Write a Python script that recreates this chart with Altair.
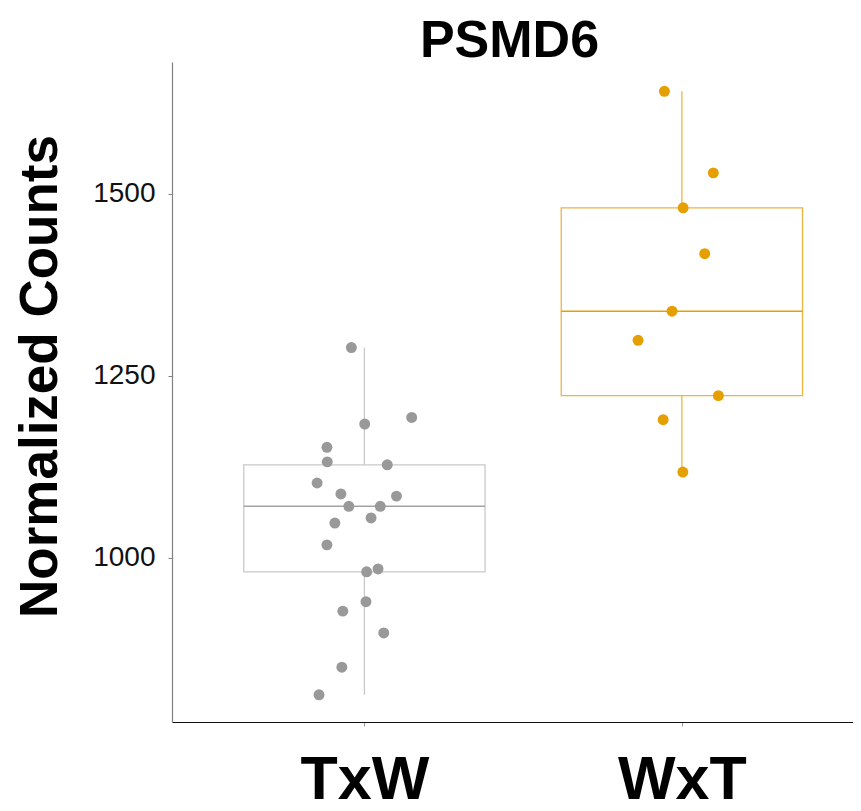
import altair as alt
import pandas as pd

# ---- data ----
groups = ["TxW", "WxT"]
group_pos = [1, 2]

txw_values = [1289, 1193, 1184, 1152, 1132, 1128, 1103, 1088, 1085, 1071, 1071,
              1055, 1048, 1018, 981, 985, 940, 927, 897, 850, 812]
txw_jitter = [-0.041, 0.149, 0.001, -0.118, -0.117, 0.072, -0.149, -0.074, 0.101,
              -0.049, 0.050, 0.021, -0.093, -0.118, 0.007, 0.043, 0.005, -0.068,
              0.061, -0.071, -0.143]

wxt_values = [1641, 1529, 1481, 1418, 1339, 1299, 1223, 1190, 1118]
wxt_jitter = [-0.055, 0.099, 0.004, 0.072, -0.031, -0.138, 0.115, -0.059, 0.003]

box_lower = [812, 1118]
box_q1 = [981, 1223]
box_median = [1071, 1339]
box_q3 = [1128, 1481]
box_upper = [1289, 1641]

y_ticks = [1000, 1250, 1500]

point_colors = ["#999999", "#E69F00"]
box_colors = ["#C9C9C9", "#EDB444"]
median_colors = ["#A3A3A3", "#E69F00"]

HALF = 0.38

pts = pd.DataFrame({
    "group": ["TxW"] * len(txw_values) + ["WxT"] * len(wxt_values),
    "value": txw_values + wxt_values,
    "jit": txw_jitter + wxt_jitter,
})
pts["pos"] = pts["group"].map(dict(zip(groups, group_pos))) + pts["jit"]

box = pd.DataFrame({
    "group": groups, "pos": group_pos,
    "lower": box_lower, "q1": box_q1, "median": box_median,
    "q3": box_q3, "upper": box_upper,
})

xscale = alt.Scale(domain=[0.394, 2.539], nice=False, zero=False)
yscale = alt.Scale(domain=[774.7, 1681.3], nice=False, zero=False)

xaxis = alt.Axis(values=group_pos, labelExpr="datum.value == 1 ? 'TxW' : 'WxT'",
                 title=None, grid=False, domainColor="#111111", domainWidth=1.2,
                 tickColor="#999999", tickSize=4, labelFontSize=61,
                 labelFontWeight="bold", labelColor="#000000",
                 labelFont="Liberation Sans", labelBaseline="alphabetic",
                 labelPadding=72, labelFlush=False)
yaxis = alt.Axis(values=y_ticks, format="d", title="Normalized Counts", grid=False,
                 domainColor="#808080", domainWidth=1.2, tickColor="#808080",
                 tickSize=4, labelFontSize=28, labelColor="#111111",
                 labelFont="Liberation Sans", labelPadding=13,
                 titleFontSize=53, titleFontWeight="bold", titleColor="#000000",
                 titleFont="Liberation Sans", titleX=-116, titleY=314,
                 titleAngle=-90, titleBaseline="alphabetic", titleAlign="center")

def cscale(rng):
    return alt.Color("group:N", scale=alt.Scale(domain=groups, range=rng), legend=None)

base = alt.Chart(box)

whisk_lo = base.mark_rule(strokeWidth=1.3).encode(
    x=alt.X("pos:Q", scale=xscale, axis=xaxis),
    y=alt.Y("lower:Q", scale=yscale, axis=yaxis),
    y2="q1:Q",
    color=cscale(box_colors),
)
whisk_hi = base.mark_rule(strokeWidth=1.3).encode(
    x=alt.X("pos:Q", scale=xscale),
    y=alt.Y("q3:Q", scale=yscale),
    y2="upper:Q",
    color=cscale(box_colors),
)
boxes = base.transform_calculate(
    xl=f"datum.pos - {HALF}", xr=f"datum.pos + {HALF}"
).mark_rect(fill="white", strokeWidth=1.3).encode(
    x=alt.X("xl:Q", scale=xscale),
    x2="xr:Q",
    y=alt.Y("q1:Q", scale=yscale),
    y2="q3:Q",
    stroke=alt.Stroke("group:N", scale=alt.Scale(domain=groups, range=box_colors), legend=None),
)
medians = base.transform_calculate(
    xl=f"datum.pos - {HALF}", xr=f"datum.pos + {HALF}"
).mark_rule(strokeWidth=1.6).encode(
    x=alt.X("xl:Q", scale=xscale),
    x2="xr:Q",
    y=alt.Y("median:Q", scale=yscale),
    color=cscale(median_colors),
)
points = alt.Chart(pts).mark_circle(size=120, opacity=1).encode(
    x=alt.X("pos:Q", scale=xscale),
    y=alt.Y("value:Q", scale=yscale),
    color=cscale(point_colors),
)

chart = alt.layer(whisk_lo, whisk_hi, boxes, medians, points).resolve_scale(
    color="independent", stroke="independent"
).properties(
    width=681, height=660,
    title=alt.TitleParams("PSMD6", fontSize=52, fontWeight="bold", color="#000000",
                          font="Liberation Sans", anchor="middle", baseline="alphabetic",
                          offset=-47, dx=-3),
    autosize=alt.AutoSizeParams(type="none"),
    padding={"left": 164, "top": 54, "right": 0, "bottom": 80},
).configure_view(stroke=None)

chart.save("out.html", embed_options={"renderer": "svg", "actions": False})
